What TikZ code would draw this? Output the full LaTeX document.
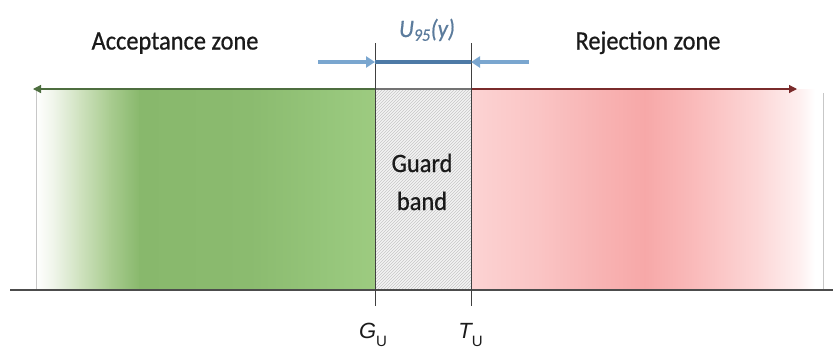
\documentclass[tikz,border=0pt]{standalone}
\usepackage{fontspec}
\setmainfont{Carlito}[FakeStretch=0.92,FakeBold=0.7]
\newfontfamily\gufont{Liberation Sans}
\usetikzlibrary{patterns,arrows.meta}
\definecolor{g0}{HTML}{FFFFFF}
\definecolor{g1}{HTML}{EEF4E8}
\definecolor{g2}{HTML}{CFE2BF}
\definecolor{g3}{HTML}{A9CC90}
\definecolor{g4}{HTML}{88B86C}
\definecolor{g5}{HTML}{8BBB6F}
\definecolor{g6}{HTML}{96C67B}
\definecolor{g7}{HTML}{9DCB80}
\definecolor{r0}{HTML}{FCD3D3}
\definecolor{r1}{HTML}{FAC4C4}
\definecolor{r2}{HTML}{F8B3B3}
\definecolor{r3}{HTML}{F7A8A8}
\definecolor{r4}{HTML}{FABDBD}
\definecolor{r5}{HTML}{FCD8D8}
\definecolor{r6}{HTML}{FEF0F0}
\definecolor{r7}{HTML}{FFFFFF}
\definecolor{hatchbg}{HTML}{F3F3F3}
\definecolor{accgreen}{HTML}{4D6E3F}
\definecolor{rejred}{HTML}{7A2B2B}
\definecolor{ulight}{HTML}{7AA6CF}
\definecolor{udark}{HTML}{4D7AA6}
\definecolor{utext}{HTML}{5B7B9C}
\definecolor{labeltext}{HTML}{1A1A1A}
\tikzset{
  zonelabel/.style={font=\fontsize{26.5}{30}\selectfont, text=labeltext, inner sep=0pt, anchor=base},
  limitlabel/.style={font=\gufont\fontsize{22}{26}\selectfont, text=labeltext, inner sep=0pt, anchor=base},
  limitline/.style={draw=black!75, line width=1pt},
  edgeline/.style={draw=black!22, line width=1pt},
  axisline/.style={draw=black!70, line width=1.3pt},
  toparrow/.style={line width=1.2pt},
  uouter/.style={draw=ulight, line width=4pt, -{Triangle[length=9pt,width=11pt]}},
  uinner/.style={draw=udark, line width=4.5pt},
}
\begin{document}
\begin{tikzpicture}[x=1pt,y=-1pt]
\useasboundingbox (0,0) rectangle (833,349);
% green acceptance fill
\foreach \xa/\ca/\xb/\cb in {36/g0/55/g1, 55/g1/80/g2, 80/g2/110/g3, 110/g3/140/g4, 140/g4/250/g5, 250/g5/330/g6, 330/g6/375/g7}{
  \shade[left color=\ca, right color=\cb] (\xa-0.4,89) rectangle (\xb+0.4,290);
}
% red rejection fill
\foreach \xa/\ca/\xb/\cb in {471/r0/540/r1, 540/r1/600/r2, 600/r2/645/r3, 645/r3/700/r4, 700/r4/760/r5, 760/r5/800/r6, 800/r6/815/r7}{
  \shade[left color=\ca, right color=\cb] (\xa-0.4,89) rectangle (\xb+0.4,290);
}
% guard band hatch
\fill[hatchbg] (375,89) rectangle (471,290);
\fill[pattern=north east lines, pattern color=black!22] (375,89) rectangle (471,290);

% coordinates
\coordinate (Ltip) at (33,89);
\coordinate (Rtip) at (797,89);
\coordinate (Gtop) at (375,89);
\coordinate (Ttop) at (471,89);
\coordinate (Gup) at (375,43);
\coordinate (Gdn) at (375,306);
\coordinate (Tup) at (471,43);
\coordinate (Tdn) at (471,306);
\coordinate (uL) at (318,62);
\coordinate (uR) at (529,62);
\coordinate (Gu) at (375,62);
\coordinate (Tu) at (471,62);
\coordinate (axL) at (10,290);
\coordinate (axR) at (833,290);
\coordinate (eL1) at (36,89);
\coordinate (eL2) at (36,290);
\coordinate (eR1) at (823,93);
\coordinate (eR2) at (823,290);

% thin outer edges
\draw[edgeline] (eL1) -- (eL2);
\draw[edgeline] (eR1) -- (eR2);

% top double arrow
\draw[toparrow, draw=accgreen, fill=accgreen, -{Triangle[length=8pt,width=8pt]}] (Gtop) -- (Ltip);
\draw[toparrow, draw=black!55] (Gtop) -- (Ttop);
\draw[toparrow, draw=rejred, fill=rejred, -{Triangle[length=8pt,width=8pt]}] (Ttop) -- (Rtip);

% axis
\draw[axisline] (axL) -- (axR);

% limit lines
\draw[limitline] (Gup) -- (Gdn);
\draw[limitline] (Tup) -- (Tdn);

% U95 arrow
\draw[uinner] (Gu) -- (Tu);
\draw[uouter] (uL) -- (Gu);
\draw[uouter] (uR) -- (Tu);

% labels
\node[zonelabel] (acc) at (175,49.5) {Acceptance zone};
\node[zonelabel] (rej) at (648,49.5) {Rejection zone};
\node[font=\itshape\fontsize{25}{28}\selectfont, text=utext, inner sep=0pt, anchor=base] (u95) at (427,37) {U\textsubscript{95}(y)};
\node[zonelabel] (guard) at (422,172) {Guard};
\node[zonelabel] (band) at (422,210) {band};
\node[limitlabel] (gu) at (373,338) {\itshape G\raisebox{-8pt}{\upshape\fontsize{15}{15}\selectfont U}};
\node[limitlabel] (tu) at (470.5,338) {\itshape T\raisebox{-8pt}{\upshape\fontsize{15}{15}\selectfont U}};
\end{tikzpicture}
\end{document}
